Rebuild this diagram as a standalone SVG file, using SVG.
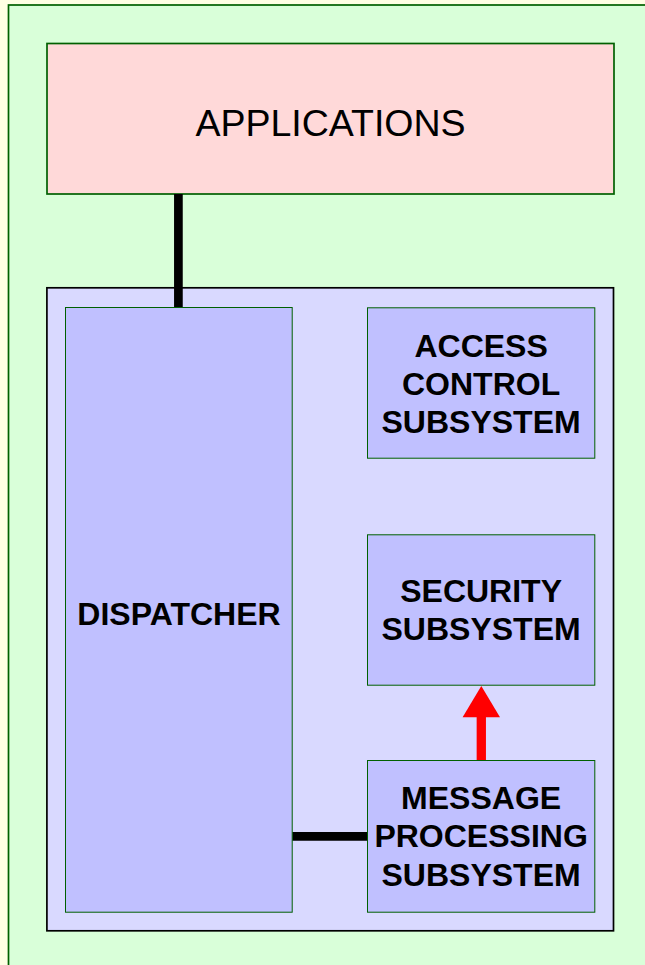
<svg xmlns="http://www.w3.org/2000/svg" width="645" height="965" viewBox="0 0 645 965">
<style>
.bg{fill:#ffffe4}
.outer{fill:#d9ffd9;stroke:#006000;stroke-width:1.7}
.app{fill:#ffd9d9;stroke:#006000;stroke-width:1.7}
.inner{fill:#d9d9ff;stroke:#000000;stroke-width:1.7}
.box{fill:#c0c0ff;stroke:#006000;stroke-width:1}
.lbl{font-family:"Liberation Sans",Arial,Helvetica,sans-serif;font-size:32px;font-weight:bold;fill:#000;text-anchor:middle}
.big{font-family:"Liberation Sans",Arial,Helvetica,sans-serif;font-size:37.5px;fill:#000;text-anchor:middle}
.conn{stroke:#000;stroke-width:8.7;fill:none}
</style>
<rect class="bg" x="0" y="0" width="645" height="965"/>
<rect class="outer" x="8.5" y="5" width="650" height="980"/>
<g id="applications">
<rect class="app" x="47" y="43.5" width="567" height="150.5"/>
<text class="big" x="330.5" y="135.7">APPLICATIONS</text>
</g>
<g id="engine">
<rect class="inner" x="46.9" y="287.8" width="566.6" height="643"/>
</g>
<g id="connectors">
<line class="conn" x1="178.4" y1="194" x2="178.4" y2="307.5"/>
<line class="conn" x1="292.2" y1="836.4" x2="367.5" y2="836.4"/>
<line x1="481.3" y1="760.5" x2="481.3" y2="716" stroke="#ff0000" stroke-width="9.3"/>
<polygon points="462.6,717.3 500,717.3 481.3,686" fill="#ff0000"/>
</g>
<g id="dispatcher">
<rect class="box" x="65.5" y="307.5" width="226.7" height="604.7"/>
<text class="lbl" x="179" y="625">DISPATCHER</text>
</g>
<g id="access-control">
<rect class="box" x="367.5" y="307.8" width="227.3" height="150.4"/>
<text class="lbl" x="481.1" y="356.7">ACCESS</text>
<text class="lbl" x="481.1" y="395">CONTROL</text>
<text class="lbl" x="481.1" y="433.3">SUBSYSTEM</text>
</g>
<g id="security">
<rect class="box" x="367.5" y="534.8" width="227.3" height="150.4"/>
<text class="lbl" x="481.1" y="601.7">SECURITY</text>
<text class="lbl" x="481.1" y="640">SUBSYSTEM</text>
</g>
<g id="message-processing">
<rect class="box" x="367.5" y="760.5" width="227.3" height="151.7"/>
<text class="lbl" x="481.1" y="809">MESSAGE</text>
<text class="lbl" x="481.1" y="847.3">PROCESSING</text>
<text class="lbl" x="481.1" y="885.7">SUBSYSTEM</text>
</g>
</svg>
